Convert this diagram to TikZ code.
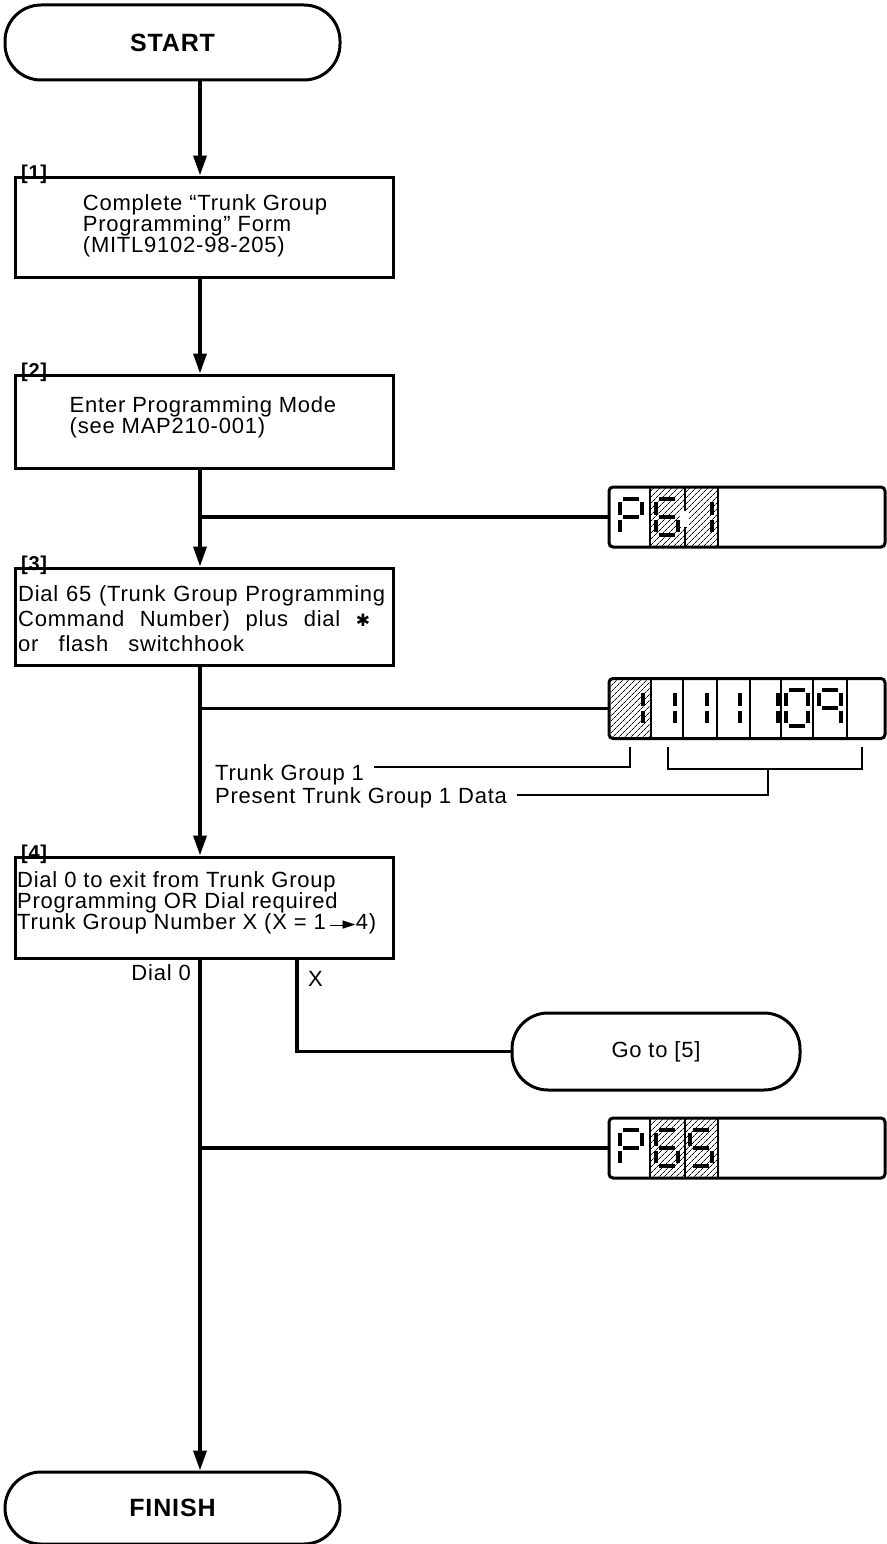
\documentclass[tikz,border=0pt]{standalone}
\usepackage{fontspec}
\setmainfont{Liberation Sans}[LetterSpace=3.5]
\newfontfamily\dejavu{DejaVu Sans}
\usetikzlibrary{arrows.meta,patterns.meta}
\tikzset{
  conn/.style={line width=3.6pt},
  arr/.style={conn,-{Triangle[length=20pt,width=13pt]}},
  lead/.style={line width=1.4pt},
  stepbox/.style={draw,line width=3pt,inner sep=0pt,minimum width=378pt},
  pill/.style={draw,line width=3pt,rounded corners=36pt,inner sep=0pt,font=\fontsize{25}{25}\selectfont\bfseries},
  disp/.style={draw,line width=3pt,rounded corners=4pt,inner sep=0pt,minimum width=276pt,minimum height=60pt},
  txt/.style={inner sep=0pt,font=\fontsize{22}{21}\selectfont,align=left},
  lbl/.style={inner sep=0pt,font=\fontsize{20}{20}\selectfont\bfseries},
  seg/.style={line width=3.8pt},
  cellline/.style={line width=1.3pt},
  hatch/.style={pattern={Lines[angle=45,distance=4pt,line width=0.8pt]}},
}
\newcommand\segA[2]{\draw[seg,shift={(#1,#2)}] (3,0)--(19,0);}
\newcommand\segB[2]{\draw[seg,shift={(#1,#2)}] (22,3)--(22,15.5);}
\newcommand\segC[2]{\draw[seg,shift={(#1,#2)}] (22,20.5)--(22,33);}
\newcommand\segD[2]{\draw[seg,shift={(#1,#2)}] (3,36)--(19,36);}
\newcommand\segE[2]{\draw[seg,shift={(#1,#2)}] (0,20.5)--(0,33);}
\newcommand\segF[2]{\draw[seg,shift={(#1,#2)}] (0,3)--(0,15.5);}
\newcommand\segG[2]{\draw[seg,shift={(#1,#2)}] (3,18)--(19,18);}
\newcommand\sevenseg[3]{\foreach \s in {#3}{\csname seg\s\endcsname{#1}{#2}}}
\begin{document}
\begin{tikzpicture}[x=1pt,y=-1pt]
\fill[white] (0,0) rectangle (886,1544);
\useasboundingbox (0,0) rectangle (886,1544);
\coordinate (spine) at (200,0);
\coordinate (xcol) at (297,0);

% terminals
\node[pill,minimum width=335pt,minimum height=75pt] (start) at (172.5,42.5) {START};
\node[pill,minimum width=335pt,minimum height=72pt] (finish) at (172.5,1508) {FINISH};
\node[pill,minimum width=288pt,minimum height=77pt,font=\fontsize{22}{22}\selectfont] (goto) at (656,1051.5) {Go to [5]};

% step boxes
\node[stepbox,minimum height=100pt] (b1) at (204,227) {};
\node[stepbox,minimum height=93pt] (b2) at (204,421.5) {};
\node[stepbox,minimum height=97pt] (b3) at (204,616.5) {};
\node[stepbox,minimum height=101pt] (b4) at (204,907.5) {};

\node[lbl,anchor=base west] (l1) at (21,179) {[1]};
\node[lbl,anchor=base west] (l2) at (21,377) {[2]};
\node[lbl,anchor=base west] (l3) at (21,570) {[3]};
\node[lbl,anchor=base west] (l4) at (21,859) {[4]};

\node[txt] (t1) at (205,226) {Complete “Trunk Group\\Programming” Form\\(MITL9102-98-205)};
\node[txt] (t2) at (203,417) {Enter Programming Mode\\(see MAP210-001)};
\node[txt,anchor=west,font=\fontsize{22}{25}\selectfont] (t3) at (18,619)
  {\makebox[367pt][s]{Dial 65 (Trunk Group Programming}\\
   \makebox[352pt][s]{Command Number) plus dial {\dejavu\fontsize{17}{17}\selectfont ✱}}\\
   \makebox[226pt][s]{or flash switchhook}};
\node[txt,anchor=west] (t4) at (17,903)
  {Dial 0 to exit from Trunk Group\\Programming OR Dial required\\
   Trunk Group Number X (X = 1\,\rule[0.3ex]{0.75em}{1pt}\kern-0.15em{\dejavu\fontsize{17}{17}\selectfont ►}4)};

% displays
\node[disp] (d1) at (747,517) {};
\node[disp] (d2) at (747,708.5) {};
\node[disp] (d3) at (747,1148) {};

% display 1: P 6.1
\fill[hatch] (650,488.5) rectangle (718,545.5);
\draw[cellline] (650,488) -- (650,546) (685,488) -- (685,546) (718,488) -- (718,546);
\sevenseg{620}{499}{A,B,F,G,E}
\sevenseg{656}{499}{A,F,G,E,D,C}
\sevenseg{690}{499}{B,C}
\fill[white] (680,511) rectangle (689,527);

% display 2: 1 1 1 1 1 0 9
\fill[hatch] (610.5,680.5) rectangle (651,736.5);
\foreach \xx in {651,683,717,750,781,813,847}{\draw[cellline] (\xx,680) -- (\xx,737);}
\sevenseg{621}{690}{B,C}
\sevenseg{653}{690}{B,C}
\sevenseg{685}{690}{B,C}
\sevenseg{718}{690}{B,C}
\sevenseg{756}{690}{B,C}
\sevenseg{786}{690}{A,B,C,D,E,F}
\sevenseg{819}{690}{A,B,C,F,G}

% display 3: P 6 5
\fill[hatch] (650,1119.5) rectangle (718,1176.5);
\draw[cellline] (650,1119) -- (650,1177) (685,1119) -- (685,1177) (718,1119) -- (718,1177);
\sevenseg{620}{1130}{A,B,F,G,E}
\sevenseg{656}{1130}{A,F,G,E,D,C}
\sevenseg{690}{1130}{A,F,G,C,D}

% main flow
\coordinate (j1) at (200,517);
\coordinate (j2) at (200,708.5);
\coordinate (j3) at (200,1148);
\draw[arr] (start.south -| spine) -- (b1.north -| spine);
\draw[arr] (b1.south -| spine) -- (b2.north -| spine);
\draw[arr] (b2.south -| spine) -- (b3.north -| spine);
\draw[arr] (b3.south -| spine) -- (b4.north -| spine);
\draw[arr] (b4.south -| spine) -- (finish.north -| spine);
\draw[conn] (j1) -- (d1.west);
\draw[conn] (j2) -- (d2.west);
\draw[conn] (j3) -- (d3.west);
\draw[conn] (b4.south -| xcol) -- (xcol |- goto.west) -- (goto.west);

\node[txt,anchor=base east] (dial0) at (191,980) {Dial 0};
\node[txt,anchor=base west] (xl) at (308,986) {X};

% annotations
\node[txt,anchor=base west] (tg1) at (215,780) {Trunk Group 1};
\node[txt,anchor=base west] (ptg) at (215,803) {Present Trunk Group 1 Data};
\coordinate (k1) at (630,767);
\coordinate (k1t) at (630,747);
\coordinate (k2) at (768,795);
\coordinate (bl) at (668,769);
\coordinate (br) at (862,769);
\draw[lead] ([xshift=10pt]tg1.east |- k1) -- (k1) -- (k1t);
\draw[lead] ([xshift=10pt]ptg.east |- k2) -- (k2) -- (k2 |- bl);
\draw[lead] (668,747) -- (bl) -- (br) -- (862,747);
\end{tikzpicture}
\end{document}
